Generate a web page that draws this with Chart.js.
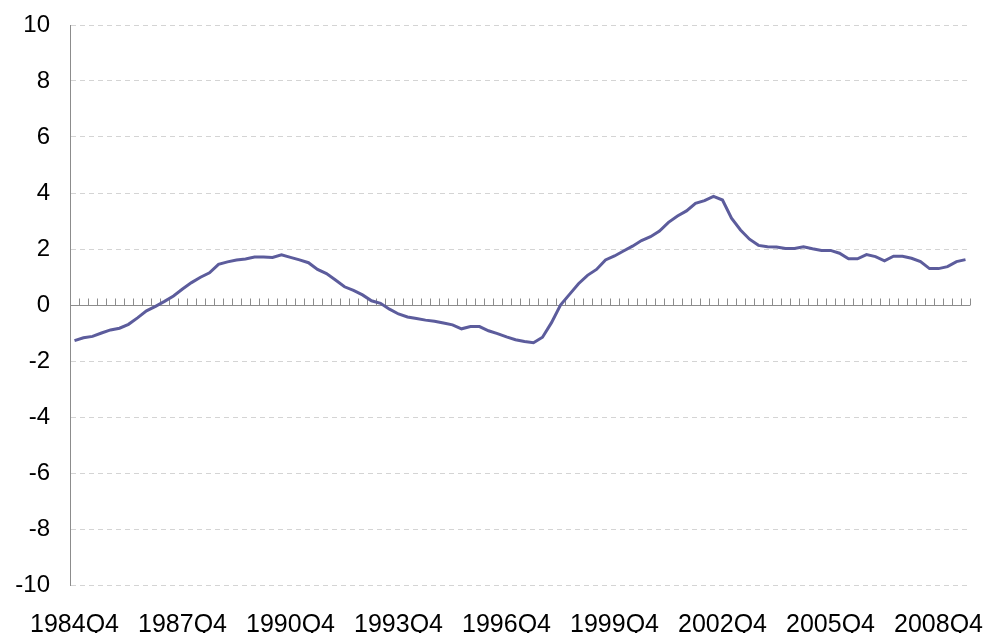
<!DOCTYPE html>
<html>
<head>
<meta charset="utf-8">
<script src="https://cdn.jsdelivr.net/npm/chart.js@4.4.1/dist/chart.umd.min.js"></script>
<style>
  html, body { margin: 0; padding: 0; background: #fff; }
</style>
</head>
<body>
<canvas id="chart" width="987" height="633"></canvas>
<script>
// quarterly series, 1984Q4 .. 2009Q3
var startYear = 1984;
var startQuarter = 4;
var values = [
  -1.27, -1.17, -1.12, -1.00, -0.89, -0.83, -0.69, -0.46, -0.21, -0.05,
   0.13,  0.32,  0.57,  0.80,  0.99,  1.15,  1.45,  1.54,  1.61,  1.64,
   1.71,  1.71,  1.70,  1.79,  1.70,  1.61,  1.51,  1.27,  1.12,  0.89,
   0.65,  0.52,  0.36,  0.15,  0.06, -0.15, -0.32, -0.43, -0.48, -0.54,
  -0.58, -0.64, -0.71, -0.85, -0.77, -0.77, -0.92, -1.02, -1.14, -1.24,
  -1.30, -1.35, -1.15, -0.63,  0.00,  0.38,  0.76,  1.06,  1.27,  1.61,
   1.75,  1.93,  2.10,  2.30,  2.44,  2.64,  2.95,  3.18,  3.36,  3.63,
   3.73,  3.88,  3.75,  3.10,  2.68,  2.35,  2.13,  2.08,  2.07,  2.02,
   2.02,  2.08,  2.01,  1.95,  1.95,  1.85,  1.65,  1.65,  1.80,  1.73,
   1.58,  1.74,  1.74,  1.67,  1.55,  1.30,  1.30,  1.37,  1.55,  1.62
];
var tickLabels = ['1984Q4', '1987Q4', '1990Q4', '1993Q4', '1996Q4', '1999Q4', '2002Q4', '2005Q4', '2008Q4'];
var yMin = -10, yMax = 10, yStep = 2;

var quarters = [];
for (var i = 0; i < values.length; i++) {
    var q = startQuarter - 1 + i;
    quarters.push((startYear + Math.floor(q / 4)) + 'Q' + (q % 4 + 1));
}

// zero line with a tick between every quarter
var zeroAxis = {
    id: 'zeroAxis',
    beforeDatasetsDraw: function(chart) {
        var ctx = chart.ctx, area = chart.chartArea;
        var x = chart.scales.x, y = chart.scales.y;
        var y0 = Math.round(y.getPixelForValue(0)) + 0.5;
        var half = (x.getPixelForValue(1) - x.getPixelForValue(0)) / 2;
        ctx.save();
        ctx.strokeStyle = '#8c8c8c';
        ctx.lineWidth = 1;
        ctx.beginPath();
        ctx.moveTo(area.left, y0);
        ctx.lineTo(area.right, y0);
        for (var i = 0; i <= quarters.length; i++) {
            var bx = Math.round(x.getPixelForValue(i) - half) + 0.5;
            ctx.moveTo(bx, y0);
            ctx.lineTo(bx, y0 - 7);
        }
        ctx.stroke();
        ctx.restore();
    }
};

// fixed axis sizes so the plot area sits where the original does
function noPad(s) {
    s.paddingTop = 0; s.paddingBottom = 0;
    s.paddingLeft = 0; s.paddingRight = 0;
}

Chart.defaults.font.family = '"Liberation Sans", Arial, sans-serif';
Chart.defaults.font.size = 24;
Chart.defaults.color = '#000';

var ctx = document.getElementById('chart').getContext('2d');
var chart = new Chart(ctx, {
    type: 'line',
    data: {
        labels: quarters,
        datasets: [{
            data: values,
            borderColor: '#5c5c9c',
            borderWidth: 3,
            pointRadius: 0,
            tension: 0,
            fill: false
        }]
    },
    options: {
        responsive: false,
        animation: false,
        layout: { padding: { top: 25, right: 17, left: 0, bottom: 0 } },
        plugins: { legend: { display: false }, tooltip: { enabled: false } },
        scales: {
            x: {
                type: 'category',
                offset: true,
                grid: { display: false, drawTicks: false },
                border: { display: false },
                ticks: {
                    autoSkip: false,
                    maxRotation: 0,
                    padding: 25,
                    font: { size: 25 },
                    callback: function(val, idx) {
                        var lbl = quarters[idx];
                        return tickLabels.indexOf(lbl) >= 0 ? lbl : '';
                    }
                },
                afterFit: function(s) { s.height = 48; noPad(s); }
            },
            y: {
                min: yMin,
                max: yMax,
                ticks: { stepSize: yStep, padding: 20 },
                grid: { color: '#d4d4d4', drawTicks: false },
                border: { color: '#8c8c8c', dash: [5, 4] },
                afterFit: function(s) { s.width = 70; noPad(s); }
            }
        }
    },
    plugins: [zeroAxis]
});
</script>
</body>
</html>
